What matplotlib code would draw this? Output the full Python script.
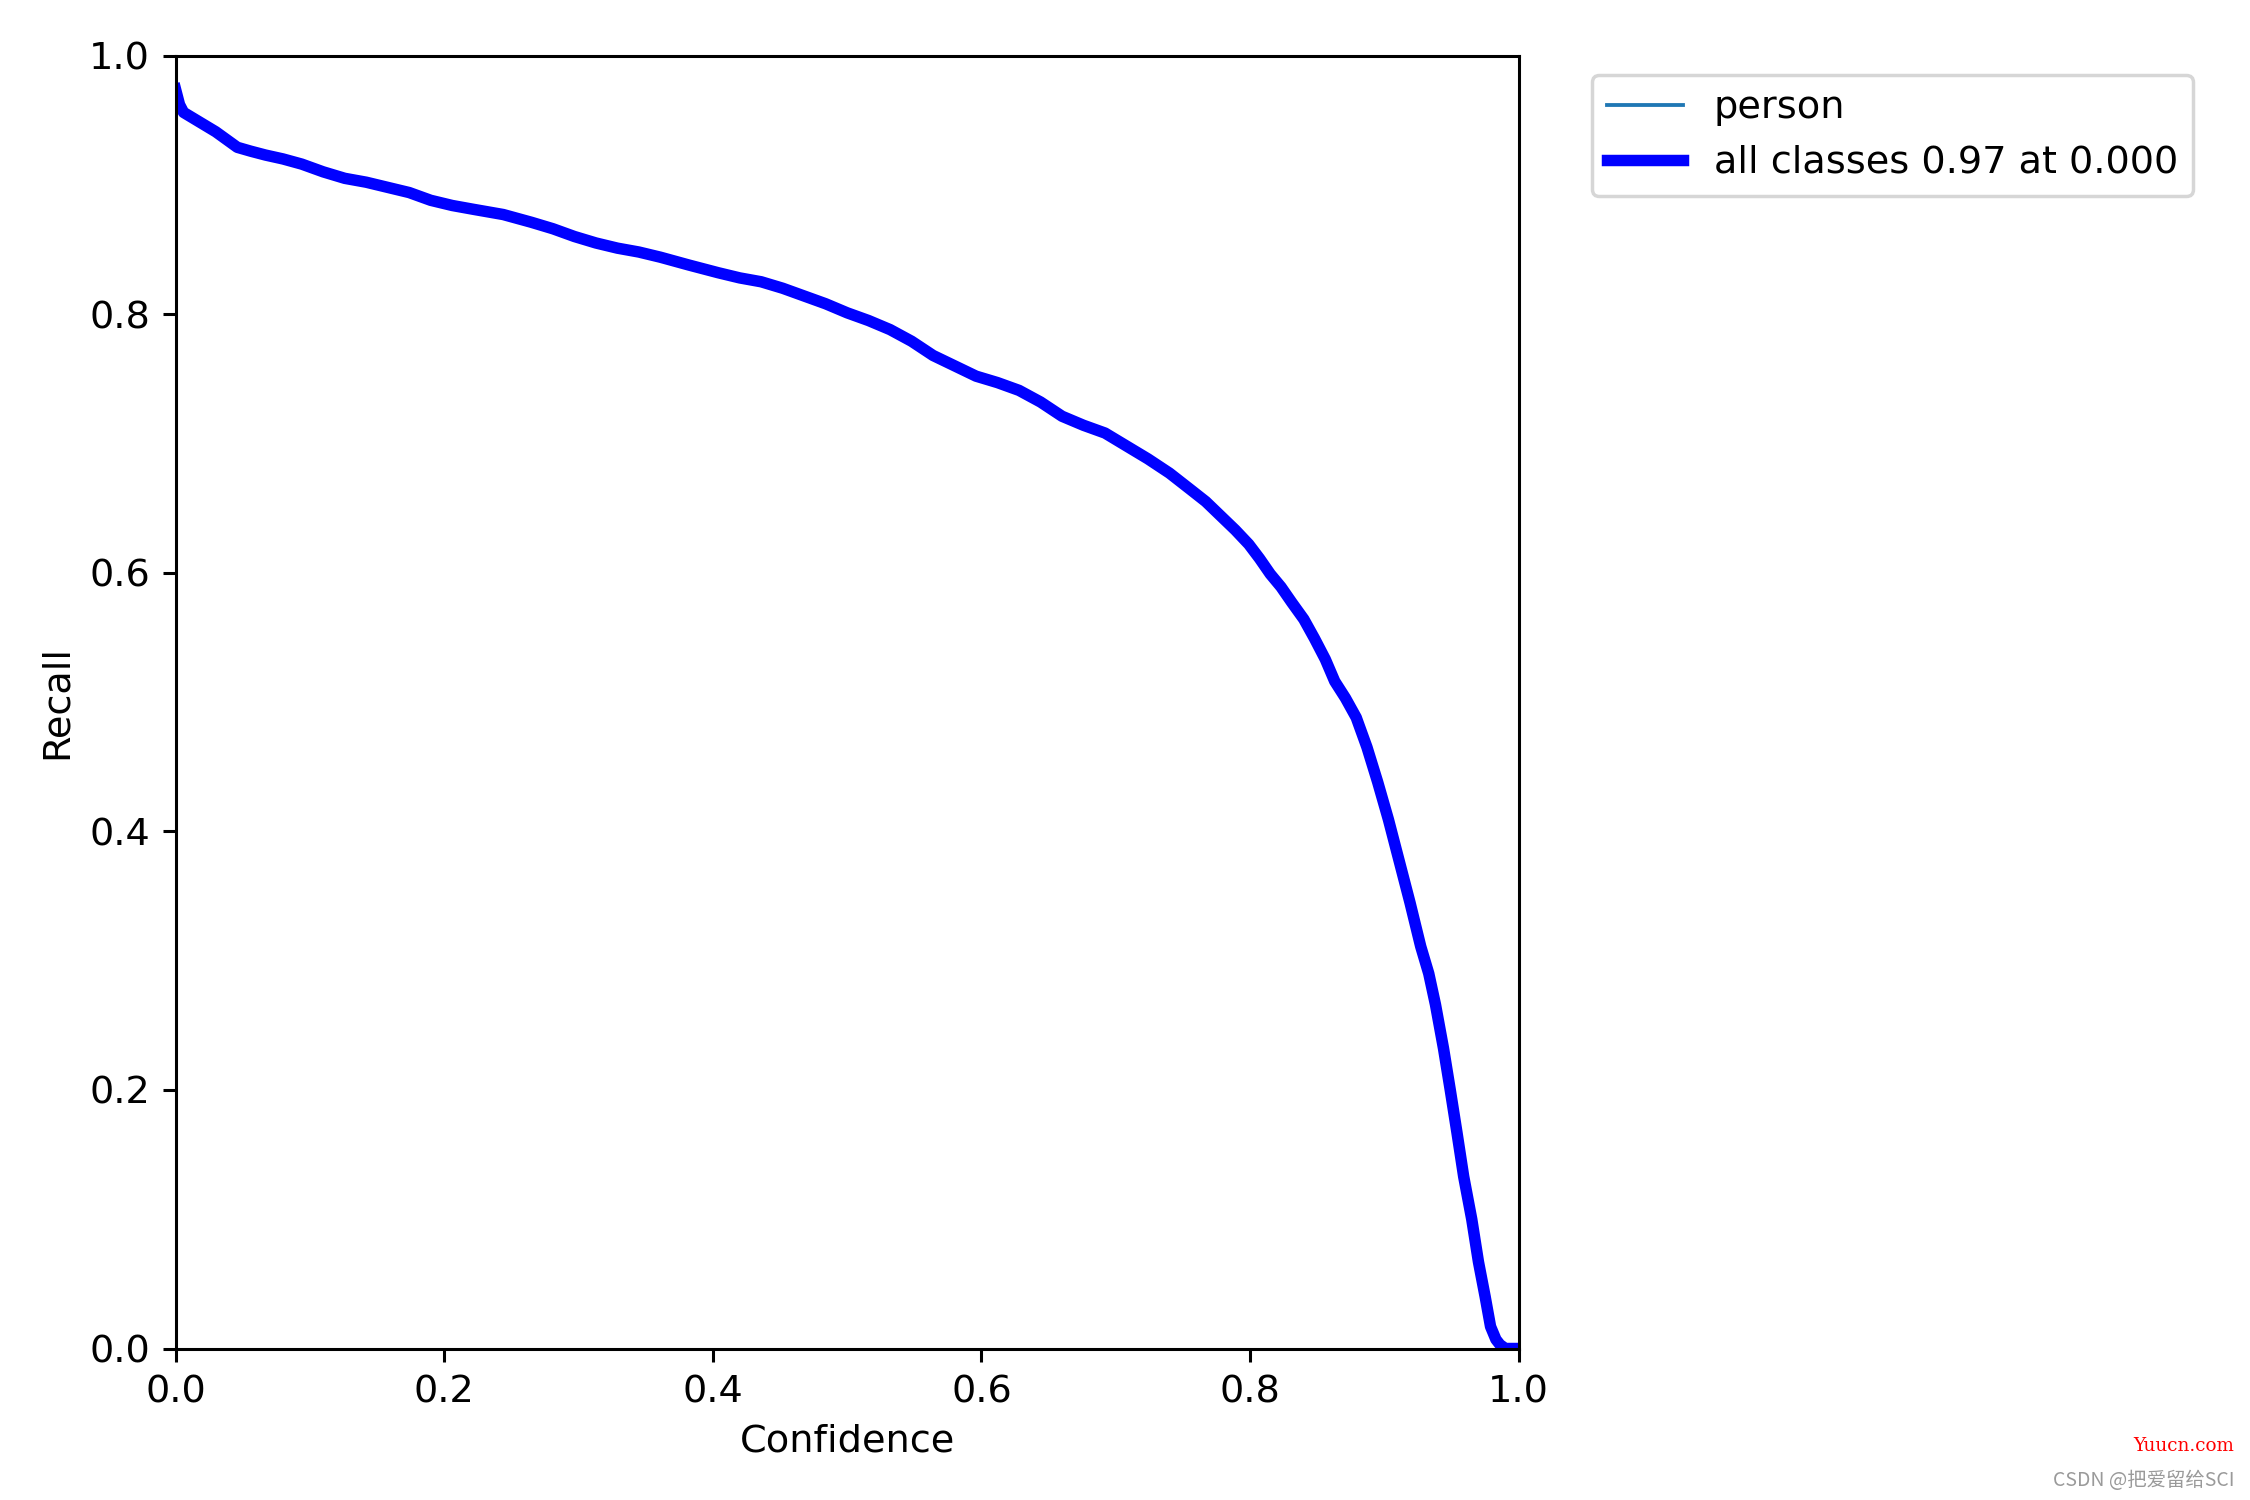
import matplotlib
matplotlib.use("Agg")
import matplotlib.pyplot as plt
import numpy as np

# Confidence thresholds and recall
confidence = [0.000, 0.003, 0.006, 0.014, 0.022, 0.030, 0.038, 0.046, 0.056, 0.067,
              0.080, 0.094, 0.110, 0.126, 0.142, 0.158, 0.174, 0.190, 0.206, 0.222,
              0.244, 0.265, 0.281, 0.297, 0.313, 0.329, 0.345, 0.361, 0.382, 0.404,
              0.420, 0.436, 0.452, 0.468, 0.484, 0.500, 0.516, 0.532, 0.548, 0.564,
              0.580, 0.596, 0.612, 0.628, 0.644, 0.660, 0.676, 0.692, 0.708, 0.724,
              0.740, 0.756, 0.767, 0.778, 0.789, 0.799, 0.807, 0.815, 0.823, 0.831,
              0.840, 0.848, 0.856, 0.863, 0.871, 0.879, 0.887, 0.895, 0.903, 0.911,
              0.919, 0.927, 0.933, 0.938, 0.944, 0.949, 0.954, 0.959, 0.965, 0.970,
              0.975, 0.979, 0.983, 0.986, 0.990, 1.000]
recall = [0.974, 0.962, 0.956, 0.951, 0.946, 0.941, 0.935, 0.929, 0.926, 0.923,
          0.920, 0.916, 0.910, 0.905, 0.902, 0.898, 0.894, 0.888, 0.884, 0.881,
          0.877, 0.871, 0.866, 0.860, 0.855, 0.851, 0.848, 0.844, 0.838, 0.832,
          0.828, 0.825, 0.820, 0.814, 0.808, 0.801, 0.795, 0.788, 0.779, 0.768,
          0.760, 0.752, 0.747, 0.741, 0.732, 0.721, 0.714, 0.708, 0.698, 0.688,
          0.677, 0.664, 0.655, 0.644, 0.633, 0.622, 0.611, 0.599, 0.589, 0.577,
          0.564, 0.549, 0.533, 0.516, 0.503, 0.488, 0.465, 0.438, 0.409, 0.377,
          0.345, 0.311, 0.290, 0.266, 0.232, 0.200, 0.167, 0.133, 0.100, 0.067,
          0.040, 0.017, 0.007, 0.003, 0.000, 0.000]

class_name = "person"
all_label = "all classes 0.97 at 0.000"

plt.rcParams["font.size"] = 11
plt.rcParams["axes.linewidth"] = 0.88
plt.rcParams["xtick.major.width"] = 0.88
plt.rcParams["ytick.major.width"] = 0.88
plt.rcParams["xtick.major.size"] = 3.85
plt.rcParams["ytick.major.size"] = 3.85

fig, ax = plt.subplots(1, 1, figsize=(9, 6), dpi=250)
fig.subplots_adjust(left=0.078, right=0.675, bottom=0.101, top=0.963)

ax.plot(confidence, recall, linewidth=1.1, label=class_name)
ax.plot(confidence, recall, linewidth=3.3, color="blue", label=all_label)

ax.set_xlabel("Confidence")
ax.set_ylabel("Recall")
ax.set_xlim(0, 1)
ax.set_ylim(0, 1)
ax.legend(bbox_to_anchor=(1.04, 1), loc="upper left")

fig.text(0.993, 0.036, "Yuucn.com", color="red", fontsize=5.3,
         family="DejaVu Serif", ha="right", va="center")
fig.text(0.993, 0.013, "CSDN @把爱留给SCI", color="#9a9a9a", fontsize=5.6,
         family=["Noto Sans CJK SC", "DejaVu Sans"], ha="right", va="center")

fig.savefig("out.png", dpi=250)
